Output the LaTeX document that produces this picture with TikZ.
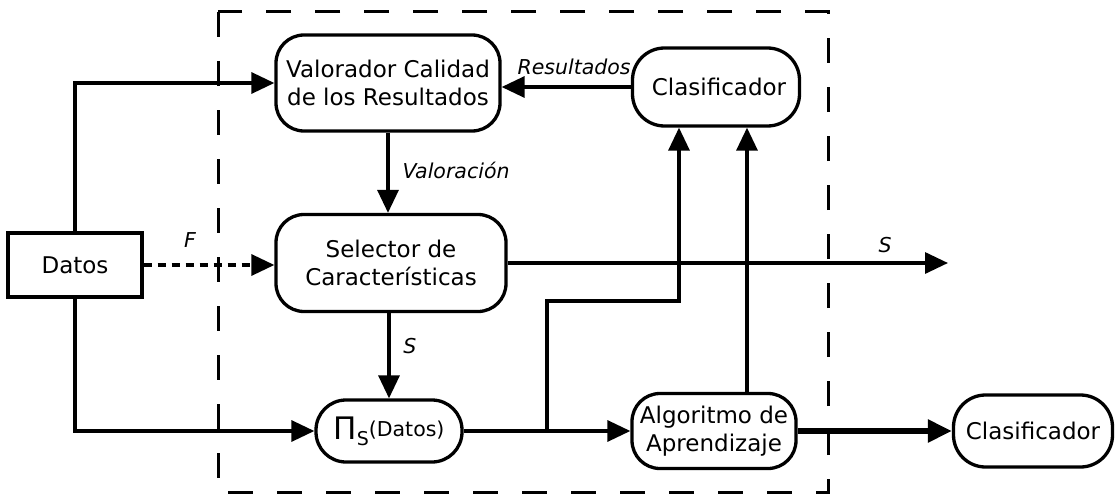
\documentclass[tikz,border=0pt]{standalone}
\usepackage{fontspec}
\setmainfont{DejaVu Sans}
\usetikzlibrary{arrows.meta}
\begin{document}
\begin{tikzpicture}[x=1pt,y=-1pt,
  font=\fontsize{23}{28.5}\selectfont,
  box/.style={draw, line width=3.3pt, rounded corners=28pt, align=center, inner sep=0pt},
  arr/.style={line width=3.3pt, -{Triangle[length=23pt,width=21pt]}},
  lbl/.style={font=\fontsize{20.5}{24}\selectfont\itshape, inner sep=0pt}]
\useasboundingbox (0,0) rectangle (1119,495);
\draw[line width=3pt, dash pattern=on 25pt off 24pt] (218,12) rectangle (828,492);
\node[box, minimum width=224, minimum height=96] (val) at (388,83) {Valorador Calidad\\de los Resultados};
\node[box, minimum width=167, minimum height=78, rounded corners=32pt] (cla) at (716,87) {\hspace{6pt}Clasificador};
\node[box, minimum width=230, minimum height=97] (sel) at (391,263) {Selector de\\Características};
\node[draw, line width=3.3pt, minimum width=134, minimum height=64, inner sep=0pt] (dat) at (75,265) {Datos};
\node[box, minimum width=146, minimum height=62, rounded corners=30pt] (pi) at (389,431)
  {{\fontsize{31}{31}\selectfont Π}\raisebox{-6pt}{\fontsize{19}{19}\selectfont S}\raisebox{3pt}{\fontsize{20.5}{20.5}\selectfont(Datos)}};
\node[box, minimum width=164, minimum height=75] (alg) at (714,431) {Algoritmo de\\Aprendizaje};
\node[box, minimum width=159, minimum height=72, rounded corners=32pt] (cl2) at (1033,431) {Clasificador};
\coordinate (sout) at (948,263);
\coordinate (br) at (547,431);
\coordinate (c1) at (679,301);
\draw[arr] (dat.north) |- (val.west);
\draw[arr, dash pattern=on 8pt off 6pt] (dat.east) -- (dat.east -| sel.west);
\draw[arr] (dat.south) |- (pi.west);
\draw[arr] (val.south) -- (val.south |- sel.north);
\draw[arr] (cla.west) -- (cla.west -| val.east);
\draw[arr] (sel.east) -- (sout);
\draw[arr] (sel.south -| pi.north) -- (pi.north);
\draw[arr] (pi.east) -- (alg.west);
\draw[arr] (br) |- (c1) -- (c1 |- cla.south);
\draw[arr] ([xshift=33pt]alg.north) -- ([xshift=33pt]alg.north |- cla.south);
\draw[line width=5.5pt, -{Triangle[length=24pt,width=22pt]}] (alg.east) -- (cl2.west);
\node[lbl] (lf) at (190,240) {F};
\node[lbl] (lv) at (456,170) {Valoración};
\node[lbl, anchor=south east] (lr) at ([yshift=12pt]cla.west) {Resultados};
\node[lbl] (ls1) at (885,245) {S};
\node[lbl] (ls2) at (410,346) {S};
\end{tikzpicture}
\end{document}
